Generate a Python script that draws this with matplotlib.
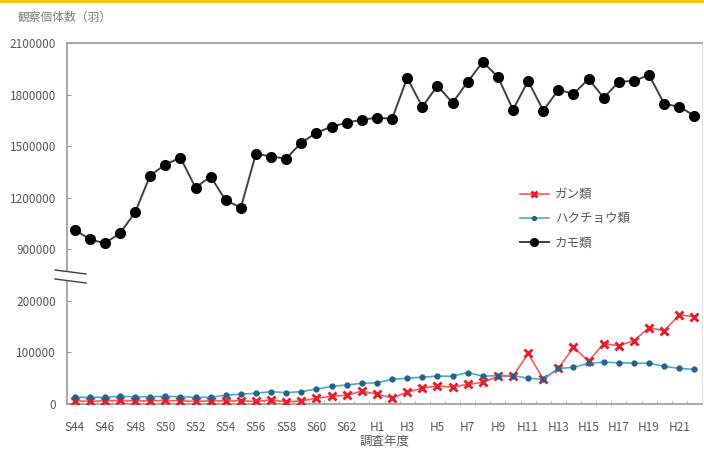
import numpy as np
import matplotlib
matplotlib.use("Agg")
import matplotlib.pyplot as plt
from matplotlib.lines import Line2D
from matplotlib.patches import Polygon

plt.rcParams['font.family'] = ['Noto Sans CJK JP', 'DejaVu Sans']

# 年度 S44 (1969) - H22 (2010)
years = ['S%d' % y for y in range(44, 64)] + ['H%d' % y for y in range(1, 23)]

# ガン類
gan = [6000, 5000, 6000, 7000, 6000, 6000, 7000, 6000, 5000, 6000,
       6000, 6000, 5000, 8000, 4000, 6000, 11000, 15000, 17000, 25000,
       19000, 12000, 23000, 31000, 35000, 33000, 38000, 42000, 54000, 54000,
       98000, 48000, 69000, 110000, 83000, 117000, 113000, 123000, 148000, 142000,
       173000, 169000]

# ハクチョウ類
hakucho = [13000, 13000, 13000, 15000, 14000, 14000, 15000, 14000, 13000, 13000,
           17000, 19000, 21000, 24000, 22000, 24000, 29000, 34000, 37000, 40000,
           41000, 48000, 50000, 52000, 54000, 54000, 61000, 54000, 55000, 55000,
           50000, 48000, 69000, 71000, 79000, 81000, 80000, 79000, 79000, 73000,
           69000, 67000]

# カモ類
kamo = [1015000, 958000, 935000, 993000, 1114000, 1329000, 1393000, 1433000, 1259000, 1323000,
        1184000, 1143000, 1457000, 1439000, 1428000, 1520000, 1578000, 1613000, 1636000, 1654000,
        1665000, 1659000, 1897000, 1729000, 1851000, 1752000, 1874000, 1990000, 1903000, 1712000,
        1880000, 1706000, 1828000, 1804000, 1891000, 1781000, 1874000, 1880000, 1914000, 1746000,
        1729000, 1677000]

y_ticks = [0, 100000, 200000, 900000, 1200000, 1500000, 1800000, 2100000]

# 縦軸を省略: 0-200000 と 900000-2100000 を一本の軸に
_real = [-1e7, 0, 200000, 900000, 1e8]
_disp = [-100, 0, 2, 3, 3 + (1e8 - 900000) / 300000]


def fwd(v):
    return np.interp(v, _real, _disp)


def inv(v):
    return np.interp(v, _disp, _real)


fig = plt.figure(figsize=(7.04, 4.5), dpi=100)
ax = fig.add_axes([67 / 704, 46 / 450, 635 / 704, 361 / 450])
ax.set_yscale('function', functions=(fwd, inv))

x = np.arange(len(years))
ax.plot(x, gan, color='#FF5A5A', lw=1.2, marker='x', ms=6, mew=2.1,
        mec='#E6202A', label='ガン類', zorder=3)
ax.plot(x, hakucho, color='#4BACC6', lw=1.2, marker='o', ms=3.5,
        mfc='#1F6391', mec='#1F6391', label='ハクチョウ類', zorder=3)
ax.plot(x, kamo, color='#404040', lw=1.4, marker='o', ms=7,
        mfc='black', mec='black', label='カモ類', zorder=3)

ax.set_xlim(-0.4, len(years) - 0.6)
ax.set_ylim(0, 2100000)
ax.set_yticks(y_ticks)
ax.set_yticklabels([str(v) for v in y_ticks])
ax.set_xticks(x[::2])
ax.set_xticklabels(years[::2])
ax.set_xticks(np.arange(len(years) + 1) - 0.5, minor=True)

ax.tick_params(axis='y', direction='in', length=3, width=0.8, color='#9a9a9a',
               labelsize=8.5, labelcolor='#595959', pad=8)
ax.tick_params(axis='x', which='major', length=0, labelsize=8.5,
               labelcolor='#595959', pad=12)
ax.tick_params(axis='x', which='minor', direction='in', length=3,
               width=0.8, color='#c8c8c8')
ax.yaxis.set_minor_locator(matplotlib.ticker.NullLocator())

for side in ['left', 'bottom', 'top']:
    ax.spines[side].set_color('#9a9a9a')
    ax.spines[side].set_linewidth(1.2)
ax.spines['right'].set_color('#e4e4e4')

fig.text(385 / 704, 1 - 441 / 450, '調査年度', fontsize=9, color='#595959',
         ha='center', va='center')

leg = ax.legend(loc='upper left', bbox_to_anchor=(520 / 704, 1 - 188 / 450),
                bbox_transform=fig.transFigure, frameon=False, fontsize=9,
                numpoints=1, handlelength=2.3, handletextpad=0.5,
                labelspacing=0.9, borderpad=0, borderaxespad=0,
                markerscale=0.8)
for t in leg.get_texts():
    t.set_color('#595959')

# 省略記号
fig.add_artist(Polygon([[55 / 704, 1 - 270 / 450], [86 / 704, 1 - 274 / 450],
                        [86 / 704, 1 - 283 / 450], [55 / 704, 1 - 279 / 450]],
                       closed=True, transform=fig.transFigure,
                       facecolor='white', edgecolor='none', zorder=5))
for y0 in (270, 279):
    fig.add_artist(Line2D([55 / 704, 86 / 704], [1 - y0 / 450, 1 - (y0 + 4) / 450],
                          transform=fig.transFigure, color='#404040', lw=1, zorder=6))

fig.text(18 / 704, 1 - 17 / 450, '観察個体数（羽）', fontsize=8.5, color='#7f7f7f',
         va='center', ha='left')
fig.add_artist(Line2D([0, 1], [0.998, 0.998], transform=fig.transFigure,
                      color='#FFC000', lw=2))

fig.savefig('out.png', dpi=100)
